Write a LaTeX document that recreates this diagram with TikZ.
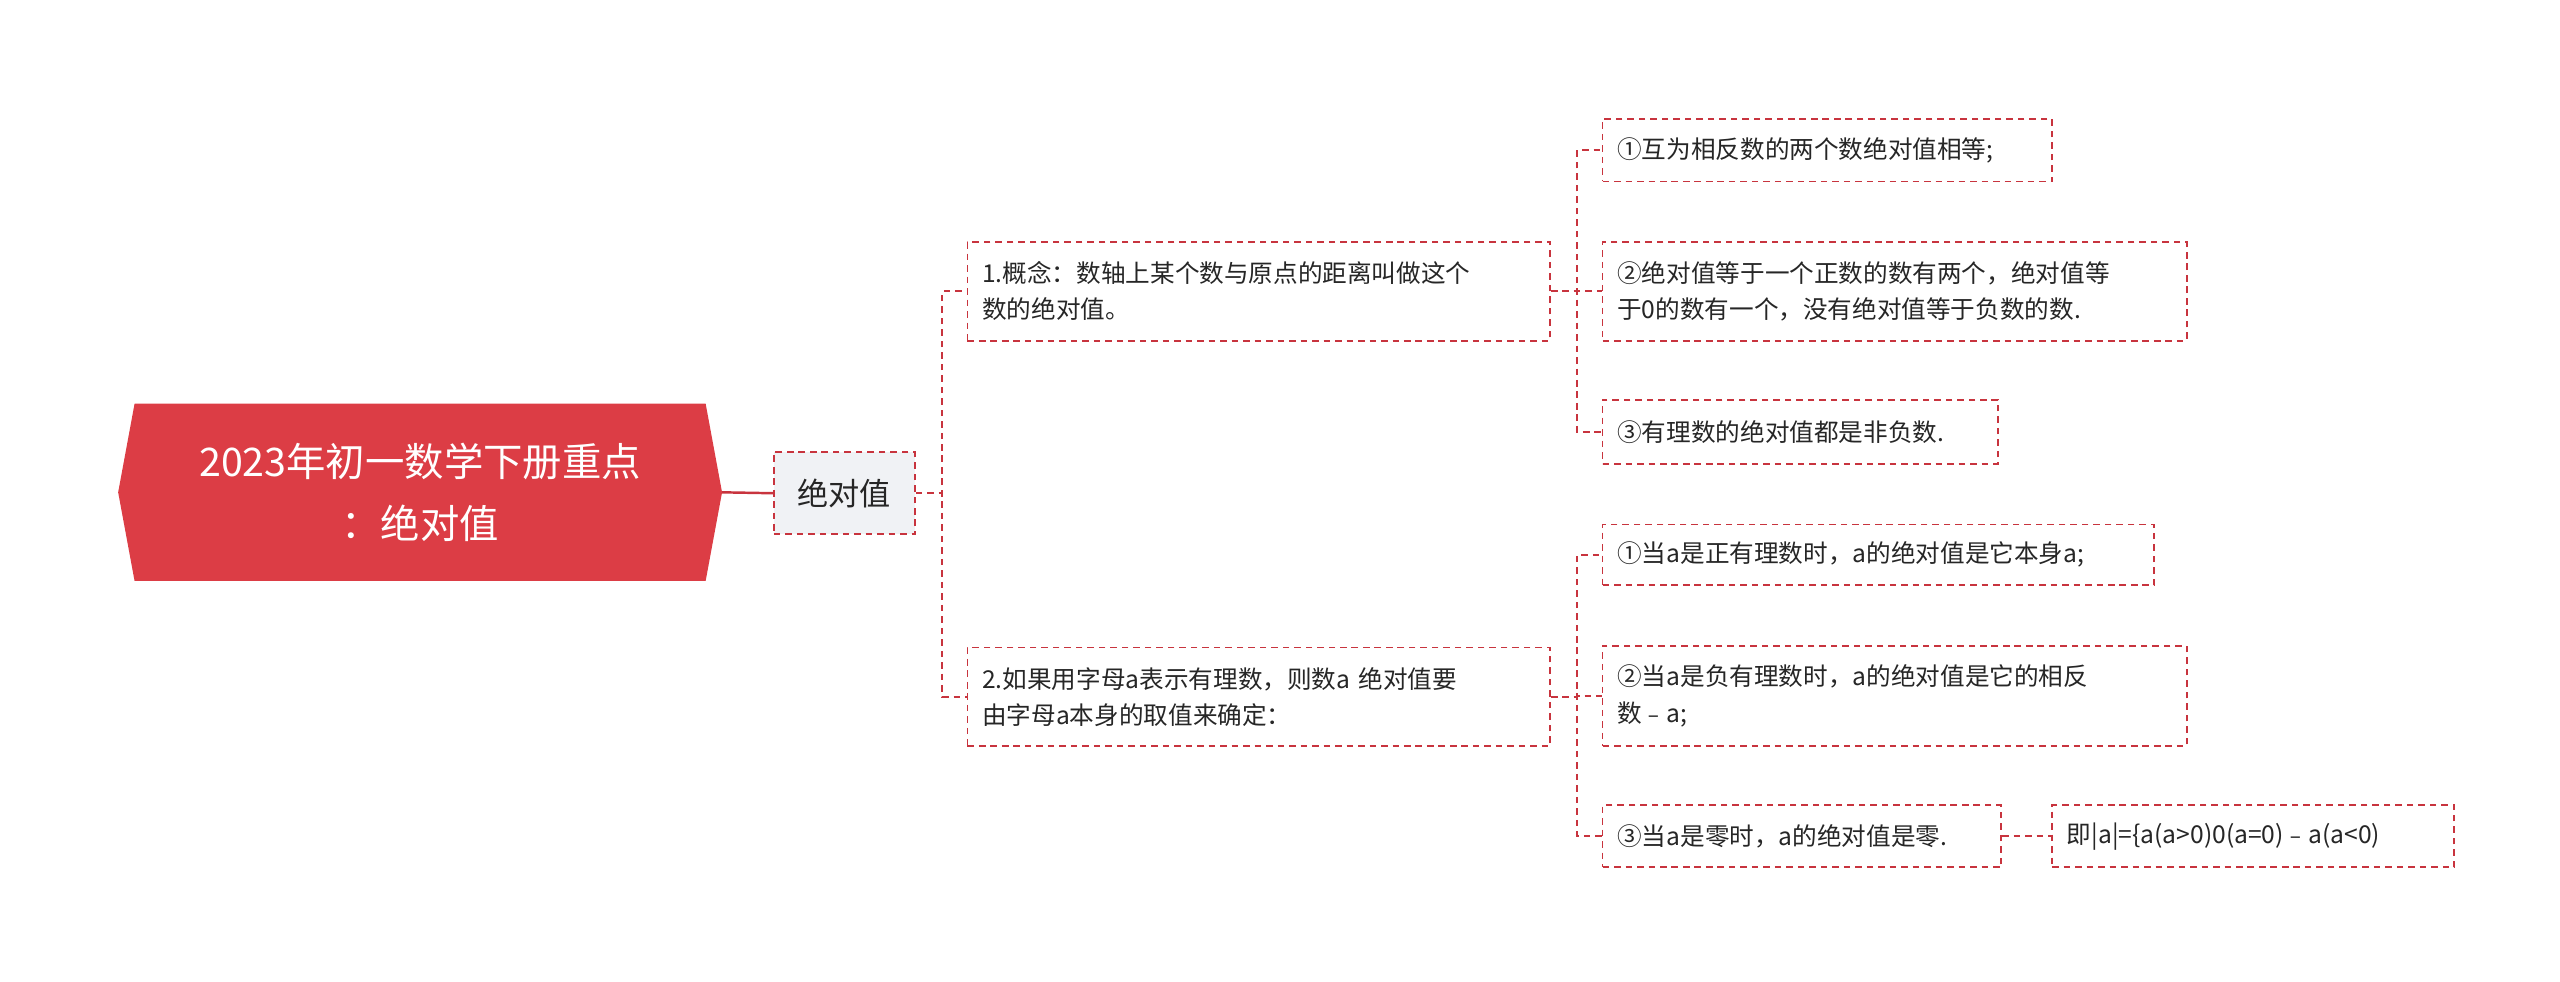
\documentclass[tikz,border=0pt]{standalone}
\usepackage{fontspec}
\setmainfont{Noto Sans CJK SC}
\definecolor{rootred}{HTML}{DC3D45}
\definecolor{edgecol}{HTML}{C8343E}
\definecolor{subfill}{HTML}{F0F2F5}
\begin{document}
\begin{tikzpicture}[x=1pt,y=-1pt,
  box/.style={draw=edgecol,line width=1.1pt,dash pattern=on 4pt off 3pt,fill=white,anchor=north west,inner xsep=9pt,inner ysep=0pt,align=left,font=\fontsize{15}{22}\selectfont,text=black!85},
  mylink/.style={draw=edgecol,line width=1.1pt,dash pattern=on 4pt off 3pt}]
\useasboundingbox (0,0) rectangle (1560,598);
\fill[rootred] (72,300) -- (82,246) -- (430,246) -- (440,300) -- (430,354) -- (82,354) -- cycle;
\node[text=white,align=center,font=\fontsize{24}{38}\selectfont] (root) at (256,300) {2023年初一数学下册重点\\：绝对值};
\coordinate (rootE) at (440,300);
\node[box,fill=subfill,minimum width=86pt,minimum height=50pt,align=center,font=\fontsize{19}{24}\selectfont,inner xsep=4pt] (sub) at (471,275) {绝对值};
\draw[edgecol,line width=1.5pt] (rootE) -- (sub.west);
\node[box,text width=337pt,minimum height=60pt] (n1) at (589,147) {1.概念：数轴上某个数与原点的距离叫做这个\\数的绝对值。};
\node[box,text width=337pt,minimum height=60pt] (n2) at (589,394) {2.如果用字母a表示有理数，则数a 绝对值要\\由字母a本身的取值来确定：};
\node[box,text width=256pt,minimum height=38pt] (l1) at (976,72) {①互为相反数的两个数绝对值相等;};
\node[box,text width=338pt,minimum height=60pt] (l2) at (976,147) {②绝对值等于一个正数的数有两个，绝对值等\\于0的数有一个，没有绝对值等于负数的数.};
\node[box,text width=223pt,minimum height=39pt] (l3) at (976,243) {③有理数的绝对值都是非负数.};
\node[box,text width=318pt,minimum height=37pt] (l4) at (976,319) {①当a是正有理数时，a的绝对值是它本身a;};
\node[box,text width=338pt,minimum height=61pt] (l5) at (976,393) {②当a是负有理数时，a的绝对值是它的相反\\数﹣a;};
\node[box,text width=225pt,minimum height=38pt] (l6) at (976,490) {③当a是零时，a的绝对值是零.};
\node[box,text width=227pt,minimum height=38pt] (l7) at (1250,490) {即|a|=\{a(a>0)0(a=0)﹣a(a<0)};
\path[mylink] (sub.east) -- ++(16,0) |- (n1.west);
\path[mylink] (sub.east) -- ++(16,0) |- (n2.west);
\foreach \c in {l1,l2,l3} {\path[mylink] (n1.east) -- ++(16,0) |- (\c.west);}
\foreach \c in {l4,l5,l6} {\path[mylink] (n2.east) -- ++(16,0) |- (\c.west);}
\path[mylink] (l6.east) -- (l7.west);
\end{tikzpicture}
\end{document}
